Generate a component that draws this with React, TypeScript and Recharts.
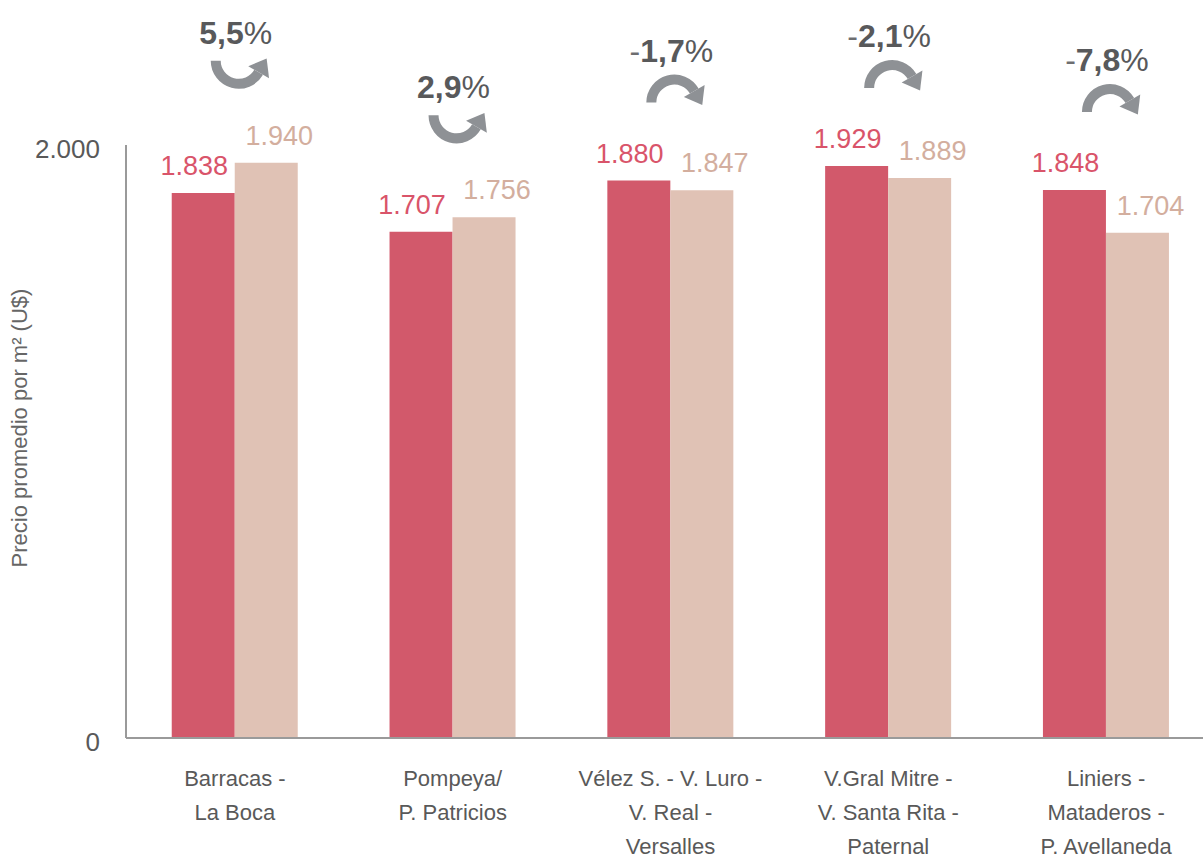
import React from "react";
import { BarChart, Bar, XAxis, YAxis, LabelList, Label } from "recharts";

const CATEGORIES = [
  "Barracas -\nLa Boca",
  "Pompeya/\nP. Patricios",
  "Vélez S. - V. Luro -\nV. Real -\nVersalles",
  "V.Gral Mitre -\nV. Santa Rita -\nPaternal",
  "Liniers -\nMataderos -\nP. Avellaneda",
];
const PRICE_PREV = [1838, 1707, 1880, 1929, 1848];
const PRICE_CURR = [1940, 1756, 1847, 1889, 1704];
const CHANGE_PCT = [5.5, 2.9, -1.7, -2.1, -7.8];
const Y_TICKS = [0, 2000];

const data = CATEGORIES.map((name, i) => ({
  name,
  prev: PRICE_PREV[i],
  curr: PRICE_CURR[i],
}));

const RED = "#D2596B";
const BEIGE = "#E0C2B5";
const FONT = "'Liberation Sans', Arial, sans-serif";

const fmt = (n: number) => String(n).replace(/\B(?=(\d{3})+(?!\d))/g, ".");

const Arrow = ({ cx, cy, up }: { cx: number; cy: number; up: boolean }) => {
  const r = 23;
  const ang = ((up ? 30 : -30) * Math.PI) / 180;
  const ex = cx + r * Math.cos(ang);
  const ey = cy + r * Math.sin(ang);
  // tangent direction at the end of the arc
  const dx = up ? Math.sin(ang) : -Math.sin(ang);
  const dy = up ? -Math.cos(ang) : Math.cos(ang);
  const px = -dy;
  const py = dx;
  const tipX = ex + dx * 16;
  const tipY = ey + dy * 16;
  const sweep = up ? 0 : 1;
  return (
    <g>
      <path
        d={`M ${cx - r} ${cy} A ${r} ${r} 0 0 ${sweep} ${ex} ${ey}`}
        fill="none"
        stroke="#8E9195"
        strokeWidth={10}
      />
      <polygon
        points={`${ex + px * 12},${ey + py * 12} ${ex - px * 12},${ey - py * 12} ${tipX},${tipY}`}
        fill="#8E9195"
      />
    </g>
  );
};

const ChangeMark = (props: any) => {
  const { x, y, height, value, index } = props;
  const base = y + height;
  const ppu = height / value;
  const maxTop = base - Math.max(PRICE_PREV[index], PRICE_CURR[index]) * ppu;
  const pct = CHANGE_PCT[index];
  const up = pct >= 0;
  const center = x;
  const ty = maxTop - 130;
  const num = Math.abs(pct).toFixed(1).replace(".", ",");
  return (
    <g>
      <text
        x={center + 1}
        y={ty + 11}
        textAnchor="middle"
        fontFamily={FONT}
        fontSize={32}
        fill="#58595B"
      >
        {!up && <tspan fill="#6D6E70">-</tspan>}
        <tspan fontWeight="bold">{num}</tspan>
        <tspan>%</tspan>
      </text>
      <Arrow cx={center + 4} cy={up ? ty + 28 : ty + 52} up={up} />
    </g>
  );
};

const barLabel = (color: string, dx: number) => (props: any) => {
  const { x, y, width, value } = props;
  return (
    <text
      x={x + width / 2 + dx}
      y={y - 18}
      textAnchor="middle"
      fontFamily={FONT}
      fontSize={27}
      fill={color}
    >
      {fmt(value)}
    </text>
  );
};

const XTick = (props: any) => {
  const { x, y, payload } = props;
  const lines = String(payload.value).split("\n");
  return (
    <text textAnchor="middle" fontFamily={FONT} fontSize={22} fill="#595959">
      {lines.map((l, i) => (
        <tspan key={i} x={x} y={y + 48 + i * 34}>
          {l}
        </tspan>
      ))}
    </text>
  );
};

const YTick = (props: any) => {
  const { x, y, payload } = props;
  return (
    <text
      x={x}
      y={y + 13}
      textAnchor="end"
      fontFamily={FONT}
      fontSize={26}
      fill="#595959"
    >
      {fmt(payload.value)}
    </text>
  );
};

export default function App() {
  return (
    <div
      style={{
        position: "absolute",
        left: 0,
        top: 0,
        width: 1203,
        height: 861,
        overflow: "hidden",
        background: "#fff",
      }}
    >
      <BarChart
        width={1215}
        height={861}
        data={data}
        margin={{ top: 145, right: 0, bottom: 0, left: 0 }}
        barCategoryGap="21%"
        barGap={0}
      >
        <XAxis
          dataKey="name"
          height={123}
          interval={0}
          tickLine={false}
          tickSize={0}
          tickMargin={0}
          axisLine={{ stroke: "#9A9A9A", strokeWidth: 2 }}
          tick={<XTick />}
        />
        <YAxis
          width={126}
          domain={[0, 2000]}
          ticks={Y_TICKS}
          tickLine={false}
          tickSize={0}
          tickMargin={26}
          axisLine={{ stroke: "#9A9A9A", strokeWidth: 2 }}
          tick={<YTick />}
        >
          <Label
            content={() => (
              <text
                x={27}
                y={428}
                transform="rotate(-90, 27, 428)"
                textAnchor="middle"
                fontFamily={FONT}
                fontSize={22}
                fill="#666"
              >
                Precio promedio por m² (U$)
              </text>
            )}
          />
        </YAxis>
        <Bar dataKey="prev" fill={RED} isAnimationActive={false}>
          <LabelList dataKey="prev" content={barLabel("#D9546A", -9)} />
        </Bar>
        <Bar dataKey="curr" fill={BEIGE} isAnimationActive={false}>
          <LabelList dataKey="curr" content={barLabel("#D3AE9E", 13)} />
          <LabelList dataKey="curr" content={ChangeMark} />
        </Bar>
      </BarChart>
    </div>
  );
}
